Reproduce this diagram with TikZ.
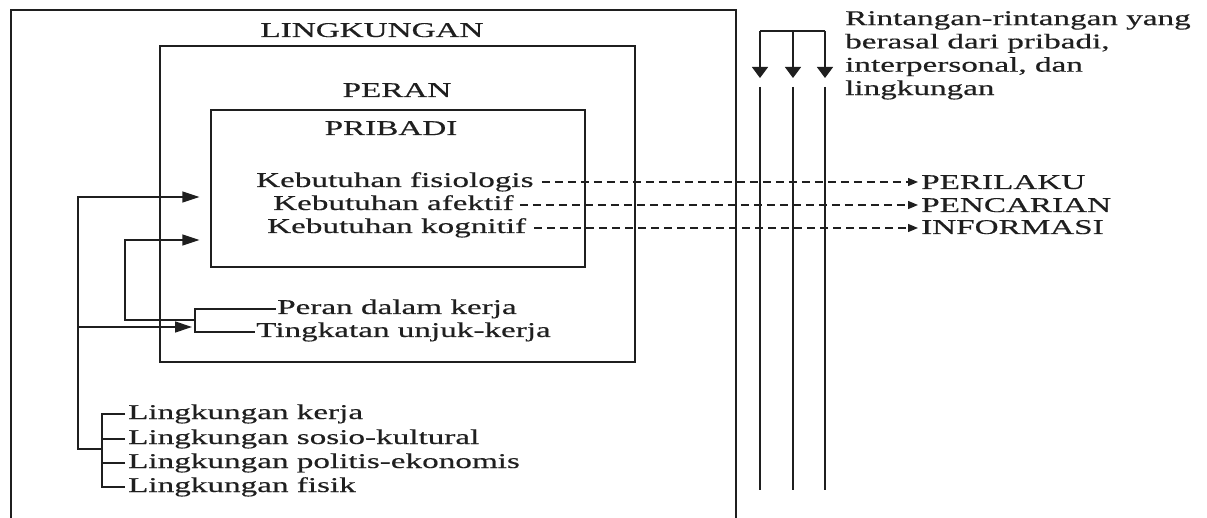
\documentclass[tikz,border=0pt]{standalone}
\usepackage{fontspec}
\setmainfont{Liberation Serif}[FakeStretch=1.58,FakeBold=0.4]
\usetikzlibrary{arrows.meta}
\begin{document}
\begin{tikzpicture}[x=1pt,y=-1pt,
  ln/.style={line width=1.3pt, draw=black!88},
  lbl/.style={font=\fontsize{21}{23.3}\selectfont, inner xsep=1pt, inner ysep=0pt, text height=14pt, text depth=4pt, text=black!88},
  mlbl/.style={font=\fontsize{21}{23.3}\selectfont, inner sep=0pt, align=left, text=black!88},
  box/.style={ln, rectangle, inner sep=0pt},
  harr/.style={ln, -{Triangle[length=17pt,width=11pt]}},
  varr/.style={ln, -{Triangle[length=11pt,width=16pt]}},
  darr/.style={ln, dash pattern=on 8pt off 5pt, -{Triangle[length=10pt,width=8pt]}}
]
\useasboundingbox (0,0) rectangle (1207,518);
\clip (0,0) rectangle (1207,518);
\fill[white] (0,0) rectangle (1207,518);

% boxes
\node[box, minimum width=725pt, minimum height=540pt] (ling) at (373.5,280) {};
\node[box, minimum width=475pt, minimum height=316pt] (peran) at (397.5,204) {};
\node[box, minimum width=374pt, minimum height=157pt] (prib) at (398,188.5) {};

% titles
\node[lbl, anchor=base] (tling) at (372,37) {LINGKUNGAN};
\node[lbl, anchor=base] (tperan) at (397,97) {PERAN};
\node[lbl, anchor=base] (tprib) at (391,135) {PRIBADI};

% needs
\node[lbl, anchor=base west] (kf) at (255,187) {Kebutuhan fisiologis};
\node[lbl, anchor=base west] (ka) at (272,210) {Kebutuhan afektif};
\node[lbl, anchor=base west] (kk) at (266,233) {Kebutuhan kognitif};

% outcome
\node[lbl, anchor=base west] (per) at (920,189) {PERILAKU};
\node[lbl, anchor=base west] (pen) at (920,212) {PENCARIAN};
\node[lbl, anchor=base west] (inf) at (920,234) {INFORMASI};

\draw[darr, shorten <=7pt, shorten >=2pt] (kf.east) -- (kf.east -| per.west);
\draw[darr, shorten <=5pt, shorten >=2pt] (ka.east) -- (ka.east -| pen.west);
\draw[darr, shorten <=7pt, shorten >=2pt] (kk.east) -- (kk.east -| inf.west);

% role items
\node[lbl, anchor=base west] (pdk) at (276,314) {Peran dalam kerja};
\node[lbl, anchor=base west] (tuk) at (255,337) {Tingkatan unjuk-kerja};

% environment items
\node[lbl, anchor=base west, inner xsep=3pt] (l1) at (125,419) {Lingkungan kerja};
\node[lbl, anchor=base west, inner xsep=3pt] (l2) at (125,444) {Lingkungan sosio-kultural};
\node[lbl, anchor=base west, inner xsep=3pt] (l3) at (125,468) {Lingkungan politis-ekonomis};
\node[lbl, anchor=base west, inner xsep=3pt] (l4) at (125,492) {Lingkungan fisik};

% brackets
\coordinate (brk) at (195,320);
\coordinate (lbr) at (102,449);
\draw[ln] (pdk.west) -| (brk) |- (tuk.west);
\draw[ln] (l1.west) -| (lbr) |- (l4.west);
\draw[ln] (l2.west) -- (l2.west -| lbr);
\draw[ln] (l3.west) -- (l3.west -| lbr);

% feedback connectors
\coordinate (ca) at (78,449);
\coordinate (cb) at (78,197);
\coordinate (cj) at (78,327);
\coordinate (cc) at (125,320);
\coordinate (cd) at (125,240);
\draw[harr, shorten >=11pt] (lbr) -- (ca) -- (cb) -- (cb -| prib.west);
\draw[harr, shorten >=3pt] (cj) -- (cj -| brk);
\draw[harr, shorten >=11pt] (brk) -- (cc) -- (cd) -- (cd -| prib.west);

% barriers
\coordinate (b1) at (760,31);
\coordinate (b2) at (793,31);
\coordinate (b3) at (825,31);
\draw[ln] (b1) -- (b3);
\foreach \c/\x in {b1/760,b2/793,b3/825}{
  \draw[varr] (\c) -- (\x,78);
  \draw[ln] (\x,87) -- (\x,490);
}
\node[mlbl, anchor=north west] (rint) at (845,11) {Rintangan-rintangan yang\\berasal dari pribadi,\\interpersonal, dan\\lingkungan};
\end{tikzpicture}
\end{document}
